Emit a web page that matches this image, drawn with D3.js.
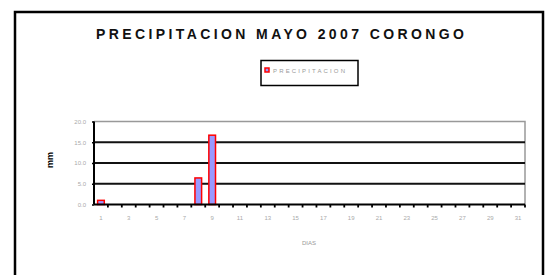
<!DOCTYPE html>
<html><head><meta charset="utf-8">
<script src="https://cdn.jsdelivr.net/npm/d3@7"></script>
<style>html,body{margin:0;padding:0;background:#fff;}svg{display:block;}</style>
</head><body>
<script>
const days = d3.range(1, 32).map(String);
const precip = [1.0,0,0,0,0,0,0,6.4,16.7,0,0,0,0,0,0,0,0,0,0,0,0,0,0,0,0,0,0,0,0,0,0];
const yTicks = [0, 5, 10, 15, 20];
const xTickLabels = ["1","3","5","7","9","11","13","15","17","19","21","23","25","27","29","31"];
const title = "PRECIPITACION MAYO 2007 CORONGO";
const seriesName = "PRECIPITACION";
const yTitle = "mm";
const xTitle = "DIAS";

(function () {
const W = 557, H = 275;
const svg = d3.select("body").append("svg").attr("width", W).attr("height", H);
svg.append("rect").attr("width", W).attr("height", H).attr("fill", "#fff");

svg.append("rect").attr("x", 15).attr("y", 12).attr("width", 528).attr("height", 300)
  .attr("fill", "none").attr("stroke", "#000").attr("stroke-width", 2.5);

svg.append("text").attr("x", 96).attr("y", 38.5).text(title)
  .attr("font-family", "Liberation Sans, Arial, sans-serif").attr("font-size", 14)
  .attr("font-weight", "bold")
  .attr("textLength", 368).attr("lengthAdjust", "spacing").attr("fill", "#111");

const lg = svg.append("g");
lg.append("rect").attr("x", 261).attr("y", 60.5).attr("width", 97).attr("height", 25)
  .attr("fill", "#fff").attr("stroke", "#000").attr("stroke-width", 1.5);
lg.append("rect").attr("x", 265).attr("y", 68).attr("width", 4).attr("height", 4)
  .attr("fill", "#9999ff").attr("stroke", "#ff0000").attr("stroke-width", 1.5);
lg.append("text").attr("x", 273).attr("y", 72.5).text(seriesName)
  .attr("font-family", "Liberation Sans, Arial, sans-serif").attr("font-size", 6)
  .attr("textLength", 72).attr("fill", "#999");

const pl = 94, pr = 525, pt = 121.5, pb = 204.5;
const x = d3.scaleBand().domain(days).range([pl, pr]).paddingInner(0.52).paddingOuter(0.26);
const xb = d3.scaleBand().domain(days).range([pl, pr]);
const y = d3.scaleLinear().domain([0, 20]).range([pb, pt]);

svg.append("path").attr("d", `M${pl},${pt}H${pr}V${pb}`)
  .attr("fill", "none").attr("stroke", "#999").attr("stroke-width", 1.5);

svg.append("g").selectAll("line").data(yTicks.filter(t => t > 0 && t < 20)).join("line")
  .attr("x1", pl).attr("x2", pr).attr("y1", d => y(d)).attr("y2", d => y(d))
  .attr("stroke", "#111").attr("stroke-width", 1.8);

svg.append("g").selectAll("rect").data(days.map((d, i) => ({d, v: precip[i]})).filter(o => o.v > 0)).join("rect")
  .attr("x", o => x(o.d)).attr("width", x.bandwidth())
  .attr("y", o => y(o.v)).attr("height", o => y(0) - y(o.v))
  .attr("fill", "#9999ff").attr("stroke", "#ff0000").attr("stroke-width", 1.5);

const yAxis = svg.append("g").attr("transform", `translate(${pl},0)`)
  .call(d3.axisLeft(y).tickValues(yTicks).tickFormat(d3.format(".1f")).tickSize(2).tickPadding(6));
yAxis.select(".domain").attr("stroke", "#000").attr("stroke-width", 2).attr("d", `M0,${pt}V${pb}`);
yAxis.selectAll(".tick line").attr("stroke", "#000").attr("stroke-width", 1.5);
yAxis.selectAll("text").attr("font-family", "Liberation Sans, Arial, sans-serif").attr("font-size", 6).attr("fill", "#aaa");

const xAxis = svg.append("g").attr("transform", `translate(0,${pb})`);
xAxis.append("line").attr("x1", pl).attr("x2", pr).attr("stroke", "#000").attr("stroke-width", 2);
xAxis.selectAll(".tk").data(days.slice(1).concat(["end"])).join("line").attr("class", "tk")
  .attr("x1", d => d === "end" ? pr : xb(d)).attr("x2", d => d === "end" ? pr : xb(d))
  .attr("y1", 0).attr("y2", 3).attr("stroke", "#000").attr("stroke-width", 1.8);
xAxis.selectAll(".lb").data(xTickLabels).join("text").attr("class", "lb")
  .attr("x", d => xb(d) + xb.bandwidth() / 2).attr("y", 15).attr("text-anchor", "middle")
  .text(d => d).attr("font-family", "Liberation Sans, Arial, sans-serif").attr("font-size", 6).attr("fill", "#aaa");

svg.append("text").attr("transform", "translate(53,160) rotate(-90)").attr("text-anchor", "middle")
  .text(yTitle).attr("font-family", "Liberation Sans, Arial, sans-serif").attr("font-size", 9)
  .attr("font-weight", "bold").attr("fill", "#000");
svg.append("text").attr("x", 309).attr("y", 245).attr("text-anchor", "middle").text(xTitle)
  .attr("font-family", "Liberation Sans, Arial, sans-serif").attr("font-size", 6).attr("fill", "#999");
})();
</script>
</body></html>
